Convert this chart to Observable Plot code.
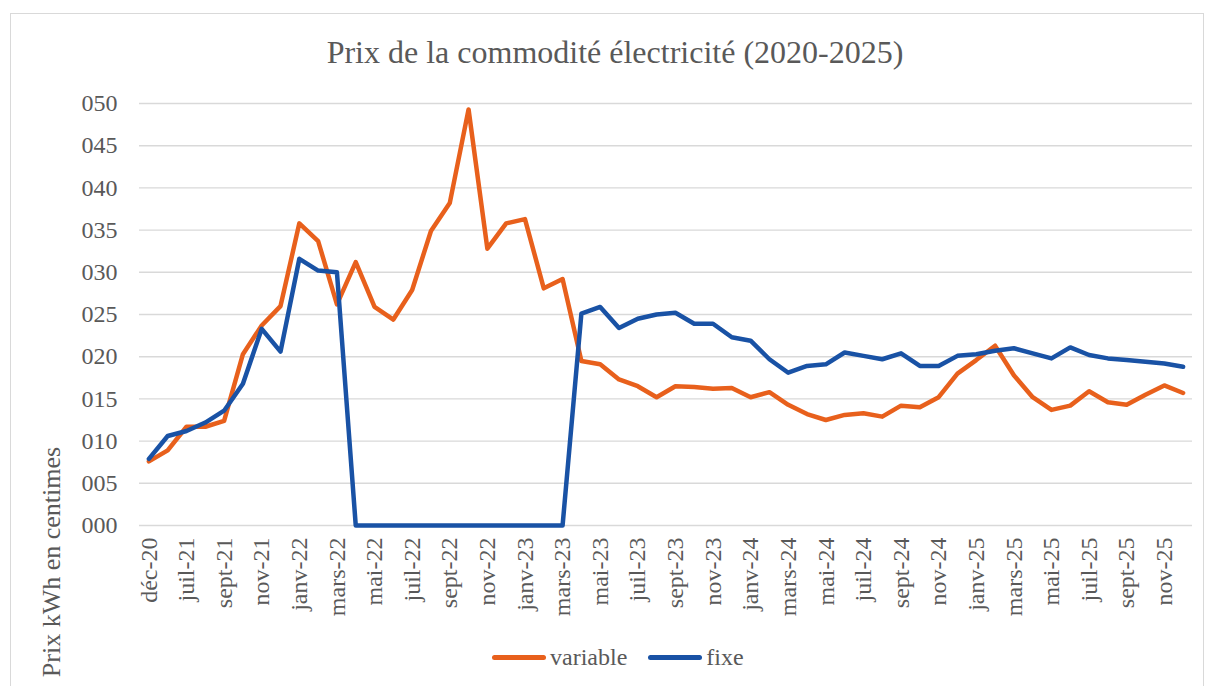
<!DOCTYPE html>
<html><head><meta charset="utf-8">
<script src="https://cdn.jsdelivr.net/npm/d3@7"></script>
<script src="https://cdn.jsdelivr.net/npm/@observablehq/plot@0.6"></script>
<style>
body{margin:0;background:#fff;overflow:hidden;}
#wrap{position:relative;width:1209px;height:686px;overflow:hidden;font-family:"Liberation Serif","DejaVu Serif",serif;color:#595959;background:#fff;}
#wrap svg, #wrap svg text, #wrap svg g{font-family:"Liberation Serif","DejaVu Serif",serif !important;}
#frame{position:absolute;left:10px;top:13px;width:1194px;height:720px;border:1px solid #d9d9d9;box-sizing:border-box;}
#title{position:absolute;left:0;width:1230px;top:36px;text-align:center;font-size:32px;line-height:1;white-space:nowrap;}
#ylabel{position:absolute;left:52px;top:562px;transform:translate(-50%,-50%) rotate(-90deg);font-size:26px;white-space:nowrap;line-height:1;}
#chart{position:absolute;left:0;top:80px;}
#legend{position:absolute;left:492px;top:645px;display:flex;align-items:center;font-size:24px;line-height:1;white-space:nowrap;}
.sw{display:inline-block;width:54px;height:5px;border-radius:3px;margin-right:4px;}
</style>
</head><body>
<div id="wrap">
  <div id="frame"></div>
  <div id="title">Prix de la commodité électricité (2020-2025)</div>
  <div id="chart"></div>
  <div id="ylabel">Prix kWh en centimes</div>
  <div id="legend"></div>
</div>
<script>
const categories = ["déc-20","juin-21","juil-21","août-21","sept-21","oct-21","nov-21","déc-21",
  "janv-22","févr-22","mars-22","avr-22","mai-22","juin-22","juil-22","août-22","sept-22","oct-22","nov-22","déc-22",
  "janv-23","févr-23","mars-23","avr-23","mai-23","juin-23","juil-23","août-23","sept-23","oct-23","nov-23","déc-23",
  "janv-24","févr-24","mars-24","avr-24","mai-24","juin-24","juil-24","août-24","sept-24","oct-24","nov-24","déc-24",
  "janv-25","févr-25","mars-25","avr-25","mai-25","juin-25","juil-25","août-25","sept-25","oct-25","nov-25","déc-25"];

const variable = [7.6, 8.9, 11.7, 11.7, 12.4, 20.3, 23.7, 26.0, 35.8, 33.7,
  26.2, 31.2, 25.9, 24.4, 27.9, 34.9, 38.2, 49.3, 32.8, 35.8,
  36.3, 28.1, 29.2, 19.5, 19.1, 17.3, 16.5, 15.2, 16.5, 16.4,
  16.2, 16.3, 15.2, 15.8, 14.3, 13.2, 12.5, 13.1, 13.3, 12.9,
  14.2, 14.0, 15.2, 18.0, 19.6, 21.3, 17.8, 15.2, 13.7, 14.2,
  15.9, 14.6, 14.3, 15.5, 16.6, 15.7];

const fixe = [7.9, 10.6, 11.2, 12.2, 13.6, 16.8, 23.3, 20.6, 31.6, 30.2, 30.0,
  0, 0, 0, 0, 0, 0, 0, 0, 0, 0, 0, 0,
  25.1, 25.9, 23.4, 24.5, 25.0, 25.2, 23.9, 23.9, 22.3, 21.9, 19.7,
  18.1, 18.9, 19.1, 20.5, 20.1, 19.7, 20.4, 18.9, 18.9, 20.1, 20.3,
  20.7, 21.0, 20.4, 19.8, 21.1, 20.2, 19.8, 19.6, 19.4, 19.2, 18.8];

const xTickLabels = ["déc-20","juil-21","sept-21","nov-21","janv-22","mars-22","mai-22","juil-22","sept-22","nov-22",
  "janv-23","mars-23","mai-23","juil-23","sept-23","nov-23","janv-24","mars-24","mai-24","juil-24","sept-24","nov-24",
  "janv-25","mars-25","mai-25","juil-25","sept-25","nov-25"];

const yTickValues = [0, 5, 10, 15, 20, 25, 30, 35, 40, 45, 50];
const yTickLabels = ["000","005","010","015","020","025","030","035","040","045","050"];

const seriesNames = ["variable", "fixe"];
const seriesColors = ["#E8601C", "#1952A5"];

const rowsVariable = categories.map((c, i) => ({cat: c, v: variable[i]}));
const rowsFixe = categories.map((c, i) => ({cat: c, v: fixe[i]}));

const font = '"Liberation Serif","DejaVu Serif",serif';

const chart = Plot.plot({
  width: 1209,
  height: 560,
  marginLeft: 139,
  marginRight: 17,
  marginTop: 23,
  marginBottom: 115,
  style: {fontFamily: font, fontSize: "24px", color: "#595959", background: "transparent", overflow: "visible"},
  x: {type: "point", domain: categories, padding: 0.5, label: null},
  y: {domain: [0, 50], label: null},
  marks: [
    Plot.ruleY(yTickValues, {stroke: "#d9d9d9", strokeWidth: 1.4}),
    Plot.axisY({ticks: yTickValues, tickFormat: d => yTickLabels[yTickValues.indexOf(d)], tickSize: 0, tickPadding: 22, label: null, fontSize: 24, fontFamily: font}),
    Plot.axisX({ticks: xTickLabels, tickSize: 0, tickPadding: 12, tickRotate: -90, label: null, fontSize: 24, fontFamily: font}),
    Plot.line(rowsVariable, {x: "cat", y: "v", stroke: seriesColors[0], strokeWidth: 4.5, strokeLinejoin: "round", strokeLinecap: "round"}),
    Plot.line(rowsFixe, {x: "cat", y: "v", stroke: seriesColors[1], strokeWidth: 4.5, strokeLinejoin: "round", strokeLinecap: "round"})
  ]
});
document.getElementById("chart").appendChild(chart);

const legend = document.getElementById("legend");
seriesNames.forEach((name, i) => {
  const item = document.createElement("span");
  item.style.display = "inline-flex";
  item.style.alignItems = "center";
  item.style.marginRight = i === 0 ? "21px" : "0";
  const sw = document.createElement("span");
  sw.className = "sw";
  sw.style.background = seriesColors[i];
  const t = document.createElement("span");
  t.textContent = name;
  item.appendChild(sw);
  item.appendChild(t);
  legend.appendChild(item);
});
</script>
</body></html>
